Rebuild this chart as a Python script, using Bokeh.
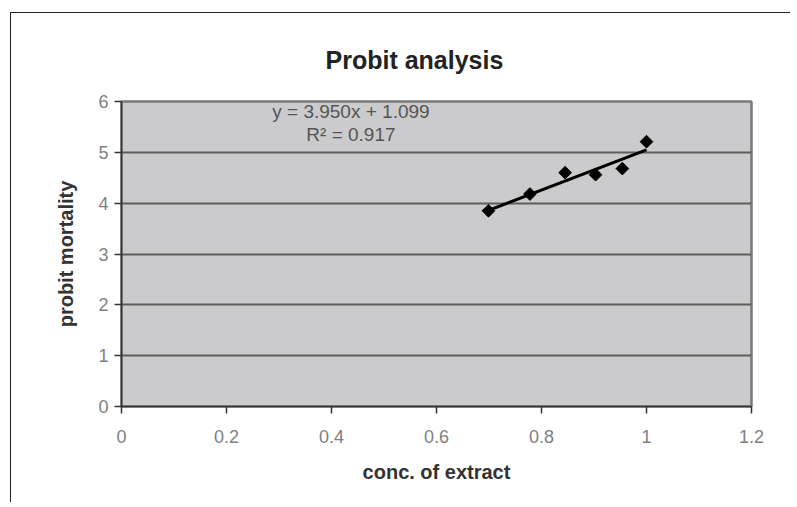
import numpy as np
from bokeh.plotting import figure
from bokeh.models import Label, FixedTicker, Range1d
from bokeh.embed import file_html
from bokeh.resources import INLINE

# data
conc = [0.699, 0.778, 0.845, 0.903, 0.954, 1.000]
probit = [3.85, 4.18, 4.60, 4.56, 4.68, 5.21]
slope = 3.950
intercept = 1.099
r2 = 0.917
x_ticks = [0, 0.2, 0.4, 0.6, 0.8, 1.0, 1.2]
x_tick_labels = ["0", "0.2", "0.4", "0.6", "0.8", "1", "1.2"]
y_ticks = [0, 1, 2, 3, 4, 5, 6]

FONT = "Liberation Sans"

p = figure(width=780, height=490, output_backend="svg", toolbar_location=None,
           x_range=Range1d(0, 1.2), y_range=Range1d(0, 6),
           min_border_left=110, min_border_right=40, min_border_top=88, min_border_bottom=97)
p.margin = (12, 0, 0, 10)
p.styles = {"border-left": "1.5px solid #222", "border-top": "1.5px solid #222"}
p.background_fill_color = "#cbcbcd"
p.border_fill_color = "white"
p.outline_line_color = "#7a7a7a"
p.outline_line_width = 2.5

p.xgrid.grid_line_color = None
p.ygrid.grid_line_color = "#5e5e5e"
p.ygrid.grid_line_width = 1.8

p.title.text = "Probit analysis"
p.title.align = "left"
p.title.offset = 204
p.title.standoff = 56
p.title.text_font = FONT
p.title.text_font_size = "25px"
p.title.text_font_style = "bold"
p.title.text_color = "#222222"

p.xaxis.ticker = FixedTicker(ticks=x_ticks)
p.xaxis.major_label_overrides = {t: l for t, l in zip(x_ticks, x_tick_labels)}
p.yaxis.ticker = FixedTicker(ticks=y_ticks)
for ax in (p.xaxis, p.yaxis):
    ax.axis_line_color = "#333333"
    ax.axis_line_width = 1.5
    ax.major_tick_line_color = "#333333"
    ax.major_tick_line_width = 1.5
    ax.major_tick_in = 0
    ax.major_tick_out = 7
    ax.minor_tick_line_color = None
    ax.major_label_text_font = FONT
    ax.major_label_text_font_size = "18px"
    ax.major_label_text_color = "#808080"
    ax.axis_label_text_font = FONT
    ax.axis_label_text_font_size = "20px"
    ax.axis_label_text_font_style = "bold"
    ax.axis_label_text_color = "#333333"
p.xaxis.major_label_standoff = 16
p.yaxis.major_label_standoff = 6
p.xaxis.axis_label = "conc. of extract"
p.yaxis.axis_label = "probit mortality"
p.xaxis.axis_label_standoff = 15
p.yaxis.axis_label_standoff = 18

xs = np.array([min(conc), max(conc)])
p.line(xs, slope * xs + intercept, line_color="black", line_width=3)
p.scatter(conc, probit, marker="square", angle=np.pi / 4, size=9, color="black")

p.add_layout(Label(x=0.437, y=5.80, text=f"y = {slope:.3f}x + {intercept:.3f}",
                   text_align="center", text_baseline="middle", text_font=FONT,
                   text_font_size="19px", text_color="#555555"))
p.add_layout(Label(x=0.437, y=5.35, text=f"R² = {r2:.3f}",
                   text_align="center", text_baseline="middle", text_font=FONT,
                   text_font_size="19px", text_color="#555555"))

open("out.html", "w").write(file_html(p, INLINE))
